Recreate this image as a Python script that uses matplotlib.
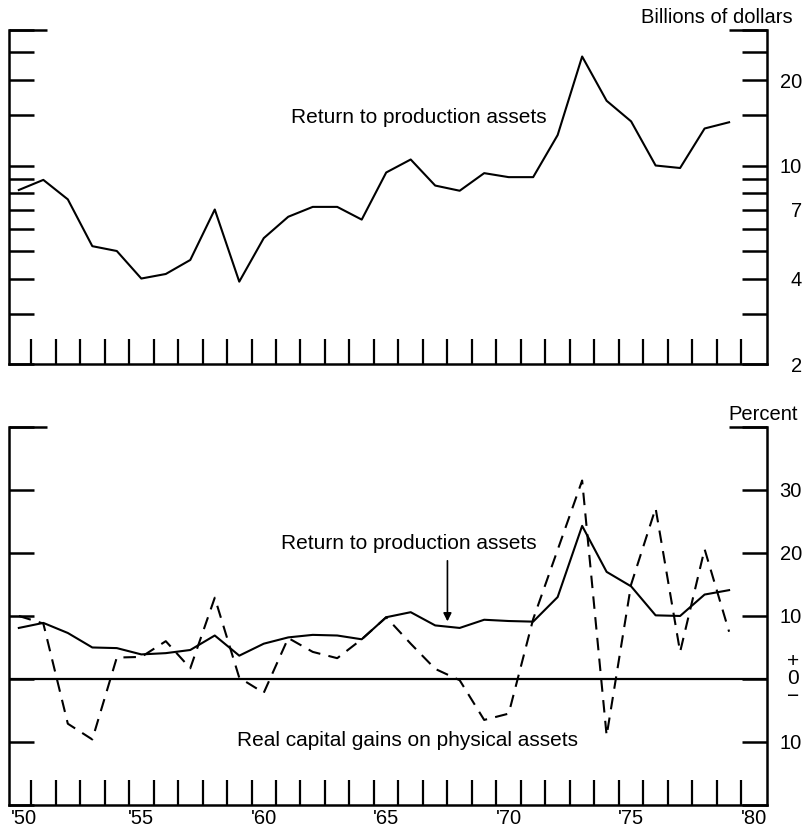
import numpy as np
import matplotlib
matplotlib.use("Agg")
import matplotlib.pyplot as plt
from matplotlib.ticker import FixedLocator, FixedFormatter, NullFormatter

plt.rcParams['font.family'] = ['Liberation Sans', 'DejaVu Sans']

# annual values, plotted at mid-year
years = np.arange(1950, 1980)

# return to production assets, billions of dollars (log scale panel)
return_billions = [8.2, 8.9, 7.6, 5.2, 5.0, 4.0, 4.15, 4.65, 7.0, 3.9,
                   5.55, 6.6, 7.15, 7.15, 6.45, 9.45, 10.5, 8.5, 8.15, 9.4,
                   9.1, 9.1, 12.8, 24.2, 16.9, 14.3, 10.0, 9.8, 13.5, 14.2]

# return to production assets, percent
return_pct = [8.1, 8.9, 7.3, 5.0, 4.9, 3.9, 4.1, 4.6, 6.9, 3.7,
              5.6, 6.6, 7.0, 6.9, 6.3, 9.8, 10.6, 8.5, 8.1, 9.4,
              9.2, 9.1, 13.0, 24.3, 17.0, 14.7, 10.1, 10.0, 13.4, 14.1]

# real capital gains on physical assets, percent
gains_pct = [10.0, 8.8, -7.1, -9.6, 3.4, 3.5, 6.0, 1.7, 12.9, 0.2,
             -2.2, 6.5, 4.3, 3.3, 6.3, 9.8, 5.6, 1.6, -0.2, -6.5,
             -5.5, 9.5, 20.5, 31.5, -9.0, 15.0, 27.1, 4.3, 20.6, 7.5]

top_ticks = [2, 3, 4, 5, 6, 7, 8, 9, 10, 15, 20, 25, 30]
top_labels = ['2', '', '4', '', '', '7', '', '', '10', '', '20', '', '']
bottom_ticks = [-20, -10, 0, 10, 20, 30, 40]
bottom_labels = ['', '10', '', '10', '20', '30', '']
year_label_pos = [1950.7, 1955.5, 1960.5, 1965.5, 1970.5, 1975.5, 1980.5]
year_labels = ["'50", "'55", "'60", "'65", "'70", "'75", "'80"]

x = years + 0.5
fs = 14.5
lw_axis = 1.8

fig = plt.figure(figsize=(8.07, 8.38), dpi=100)
ax1 = fig.add_axes([0.0112, 0.5656, 0.9393, 0.3986])
ax2 = fig.add_axes([0.0112, 0.0394, 0.9393, 0.4511])


def style_axis(ax, yticks, ylabels):
    ax.set_xlim(1950.1, 1981.05)
    for side in ['left', 'right', 'bottom']:
        ax.spines[side].set_linewidth(lw_axis)
    ax.spines['top'].set_visible(False)
    # year ticks rising from the baseline
    ax.xaxis.set_major_locator(FixedLocator(np.arange(1951, 1981)))
    ax.xaxis.set_major_formatter(NullFormatter())
    ax.tick_params(axis='x', which='major', direction='in', length=18,
                   width=1.6, top=False)
    ax.yaxis.set_major_locator(FixedLocator(yticks))
    ax.yaxis.set_major_formatter(FixedFormatter(ylabels))
    ax.yaxis.set_minor_locator(FixedLocator([]))
    ax.tick_params(axis='y', which='both', direction='in', length=18,
                   width=1.8, left=True, right=True, labelleft=False,
                   labelright=True, labelsize=fs, pad=25)
    for lab in ax.get_yticklabels():
        lab.set_horizontalalignment('right')
    # longer caps at the top of both scales
    ax.plot([0, 0.05], [1, 1], transform=ax.transAxes, color='black',
            lw=lw_axis, clip_on=False, solid_capstyle='butt')
    ax.plot([0.95, 1], [1, 1], transform=ax.transAxes, color='black',
            lw=lw_axis, clip_on=False, solid_capstyle='butt')


# top panel: dollars on a log scale
ax1.set_yscale('log')
ax1.set_ylim(2, 30)
style_axis(ax1, top_ticks, top_labels)
ax1.plot(x, return_billions, color='black', lw=1.5)
ax1.text(1961.6, 14.8, 'Return to production assets', fontsize=15,
         ha='left', va='center')
ax1.text(1.034, 1.036, 'Billions of dollars', transform=ax1.transAxes,
         fontsize=fs, ha='right', va='center')

# bottom panel: percent
ax2.set_ylim(-20, 40)
style_axis(ax2, bottom_ticks, bottom_labels)
ax2.xaxis.set_minor_locator(FixedLocator(year_label_pos))
ax2.xaxis.set_minor_formatter(FixedFormatter(year_labels))
ax2.tick_params(axis='x', which='minor', length=0, labelsize=fs, pad=3)
ax2.axhline(0, color='black', lw=1.6)
ax2.plot(x, return_pct, color='black', lw=1.5)
ax2.plot(x, gains_pct, color='black', lw=1.5, linestyle=(0, (6, 4)))
ax2.text(1961.2, 21.5, 'Return to production assets', fontsize=15,
         ha='left', va='center')
ax2.annotate('', xy=(1968.0, 8.7), xytext=(1968.0, 19.2),
             arrowprops=dict(arrowstyle='-|>', color='black', lw=1.2,
                             mutation_scale=12))
ax2.text(1959.4, -9.8, 'Real capital gains on physical assets',
         fontsize=15, ha='left', va='center')
ax2.text(1.041, 1.032, 'Percent', transform=ax2.transAxes,
         fontsize=fs, ha='right', va='center')
# sign key beside the zero line
ax2.annotate('+\n0\n\u2212', xy=(1, 0), xycoords=('axes fraction', 'data'),
             xytext=(19, 0), textcoords='offset points', fontsize=15,
             ha='center', va='center', linespacing=0.9,
             multialignment='center')

fig.savefig('out.png', dpi=100)
